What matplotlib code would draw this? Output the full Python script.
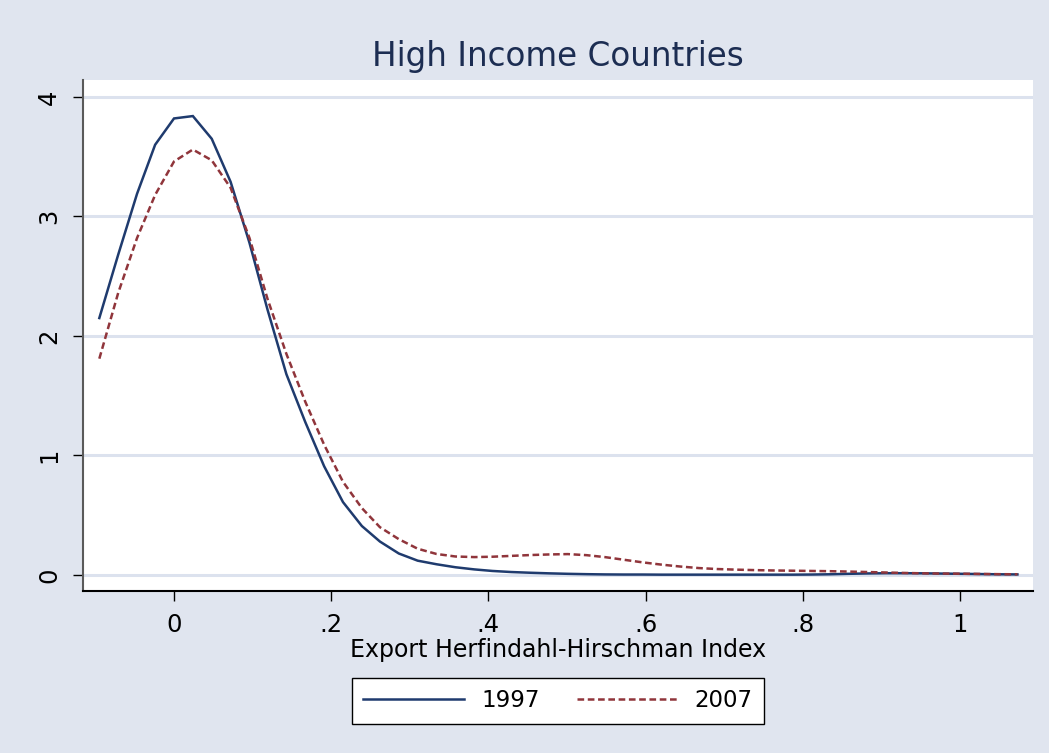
import matplotlib
matplotlib.use("Agg")
import matplotlib.pyplot as plt
from matplotlib.lines import Line2D

# ---- data ----
hhi = [-0.095, -0.071, -0.047, -0.024, 0.000, 0.024, 0.048, 0.072, 0.096, 0.119,
       0.143, 0.167, 0.191, 0.215, 0.239, 0.262, 0.286, 0.310, 0.334, 0.358,
       0.382, 0.405, 0.429, 0.453, 0.477, 0.501, 0.525, 0.548, 0.572, 0.596,
       0.620, 0.644, 0.668, 0.691, 0.715, 0.739, 0.763, 0.787, 0.811, 0.834,
       0.858, 0.882, 0.906, 0.930, 0.954, 0.977, 1.001, 1.025, 1.049, 1.073]

dens_1997 = [2.15, 2.68, 3.19, 3.60, 3.82, 3.84, 3.65, 3.29, 2.78, 2.22,
             1.68, 1.28, 0.91, 0.61, 0.41, 0.28, 0.18, 0.12, 0.09, 0.065,
             0.047, 0.034, 0.025, 0.019, 0.014, 0.010, 0.007, 0.005, 0.004, 0.004,
             0.003, 0.003, 0.003, 0.003, 0.003, 0.003, 0.003, 0.003, 0.004, 0.006,
             0.010, 0.013, 0.015, 0.015, 0.014, 0.012, 0.010, 0.008, 0.006, 0.005]

dens_2007 = [1.81, 2.36, 2.82, 3.18, 3.46, 3.56, 3.47, 3.24, 2.82, 2.31,
             1.85, 1.45, 1.09, 0.78, 0.56, 0.40, 0.30, 0.22, 0.176, 0.155,
             0.150, 0.153, 0.160, 0.167, 0.172, 0.175, 0.166, 0.150, 0.128, 0.106,
             0.087, 0.071, 0.058, 0.050, 0.045, 0.041, 0.038, 0.036, 0.034, 0.032,
             0.029, 0.025, 0.021, 0.017, 0.014, 0.012, 0.011, 0.009, 0.007, 0.006]

x_ticks = [0, 0.2, 0.4, 0.6, 0.8, 1.0]
x_tick_labels = ["0", ".2", ".4", ".6", ".8", "1"]
y_ticks = [0, 1, 2, 3, 4]
y_tick_labels = ["0", "1", "2", "3", "4"]
series_labels = ["1997", "2007"]

title = "High Income Countries"
x_label = "Export Herfindahl-Hirschman Index"

# ---- style ----
plt.rcParams["font.family"] = ["DejaVu Sans"]
plt.rcParams["lines.scale_dashes"] = False

BG = "#E0E5EF"
GRID = "#DCE2EE"
NAVY = "#1F3B6E"
MAROON = "#90353B"
TITLE_C = "#1C2D52"
LW = 1.8
DASH = (4.8, 2.6)

fig = plt.figure(figsize=(10.49, 7.53), dpi=100, facecolor=BG)
ax = fig.add_axes([0.0788, 0.2151, 0.9060, 0.6787])
ax.set_facecolor("white")

ax.plot(hhi, dens_1997, color=NAVY, lw=LW, solid_joinstyle="miter", zorder=3)
ax.plot(hhi, dens_2007, color=MAROON, lw=LW, dashes=DASH, zorder=3)

ax.set_xlim(-0.1162, 1.0929)
ax.set_ylim(-0.134, 4.142)

ax.set_xticks(x_ticks)
ax.set_xticklabels(x_tick_labels, fontsize=17.5)
ax.set_yticks(y_ticks)
ax.set_yticklabels(y_tick_labels, fontsize=17.5, rotation=90, va="center")

ax.yaxis.grid(True, color=GRID, lw=2.2)
ax.xaxis.grid(False)
ax.set_axisbelow(True)

for s in ["top", "right"]:
    ax.spines[s].set_visible(False)
ax.spines["left"].set_color("#5a5a5a")
ax.spines["left"].set_linewidth(1.5)
ax.spines["bottom"].set_color("black")
ax.spines["bottom"].set_linewidth(1.5)

ax.tick_params(axis="x", length=7.5, width=1.0, pad=8, colors="black")
ax.tick_params(axis="y", length=7.5, width=1.0, pad=8, colors="black")

ax.set_title(title, fontsize=23.5, color=TITLE_C, pad=10)
ax.set_xlabel(x_label, fontsize=17, labelpad=1)

handles = [Line2D([], [], color=NAVY, lw=LW),
           Line2D([], [], color=MAROON, lw=LW, dashes=DASH)]
leg = fig.legend(handles, series_labels, loc="center", bbox_to_anchor=(0.532, 0.0695),
                 ncol=2, fontsize=16.5, frameon=True, fancybox=False,
                 handlelength=4.4, handletextpad=0.75, columnspacing=1.6,
                 borderpad=0.5, borderaxespad=0)
fr = leg.get_frame()
fr.set_edgecolor("black")
fr.set_linewidth(1.0)
fr.set_facecolor("white")
fr.set_alpha(1)

fig.savefig("out.png", dpi=100, facecolor=BG)
